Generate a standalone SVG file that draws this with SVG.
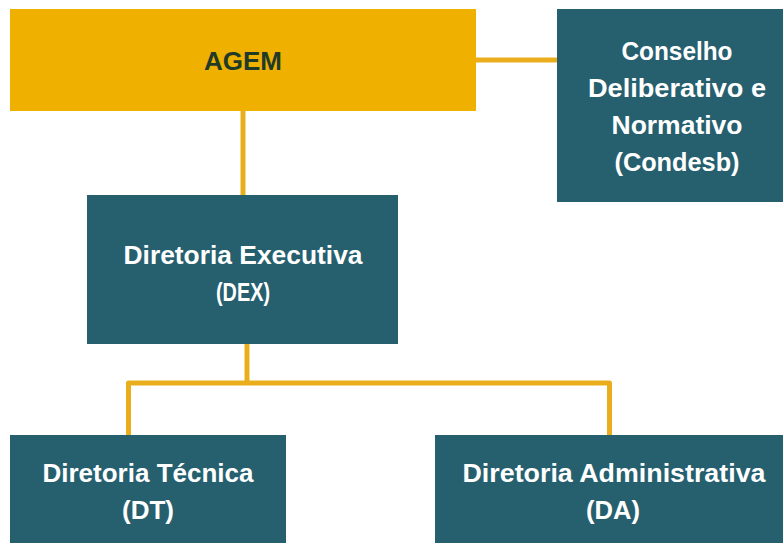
<svg xmlns="http://www.w3.org/2000/svg" width="783" height="543" viewBox="0 0 783 543">
  <style>
    .gold { fill: #EFB000; }
    .teal { fill: #26606F; }
    .lbl { font-family: "Liberation Sans", Arial, sans-serif; font-weight: bold; font-size: 26px; text-anchor: middle; fill: #FFFFFF; }
    .dark { fill: #1F3B28; }
    .link { fill: none; stroke: #EAAE1C; stroke-width: 5; stroke-linejoin: round; stroke-linecap: butt; }
  </style>
  <rect width="783" height="543" fill="#FFFFFF"/>

  <!-- connectors -->
  <g id="connectors">
    <line class="link" x1="475" y1="60" x2="558" y2="60"/>
    <line class="link" x1="243" y1="111" x2="243" y2="195"/>
    <line class="link" x1="247" y1="343" x2="247" y2="383"/>
    <path class="link" d="M128.5 435 V383 H609.5 V435"/>
  </g>

  <g id="agem">
    <rect class="gold" x="10" y="9" width="466" height="102"/>
    <text class="lbl dark" x="243" y="70" textLength="78" lengthAdjust="spacingAndGlyphs">AGEM</text>
  </g>

  <g id="condesb">
    <rect class="teal" x="557" y="9" width="226" height="193"/>
    <text class="lbl" x="677" y="60" textLength="111" lengthAdjust="spacingAndGlyphs">Conselho</text>
    <text class="lbl" x="677" y="97" textLength="178" lengthAdjust="spacingAndGlyphs">Deliberativo e</text>
    <text class="lbl" x="677" y="134" textLength="131" lengthAdjust="spacingAndGlyphs">Normativo</text>
    <text class="lbl" x="677" y="171" textLength="125" lengthAdjust="spacingAndGlyphs">(Condesb)</text>
  </g>

  <g id="dex">
    <rect class="teal" x="87" y="195" width="311" height="149"/>
    <text class="lbl" x="243" y="264" textLength="239" lengthAdjust="spacingAndGlyphs">Diretoria Executiva</text>
    <text class="lbl" x="243" y="301" textLength="54" lengthAdjust="spacingAndGlyphs">(DEX)</text>
  </g>

  <g id="dt">
    <rect class="teal" x="10" y="435" width="276" height="108"/>
    <text class="lbl" x="148" y="482" textLength="211" lengthAdjust="spacingAndGlyphs">Diretoria Técnica</text>
    <text class="lbl" x="148" y="519" textLength="52" lengthAdjust="spacingAndGlyphs">(DT)</text>
  </g>

  <g id="da">
    <rect class="teal" x="435" y="435" width="348" height="108"/>
    <text class="lbl" x="614" y="482" textLength="303" lengthAdjust="spacingAndGlyphs">Diretoria Administrativa</text>
    <text class="lbl" x="613" y="519" textLength="54" lengthAdjust="spacingAndGlyphs">(DA)</text>
  </g>
</svg>
